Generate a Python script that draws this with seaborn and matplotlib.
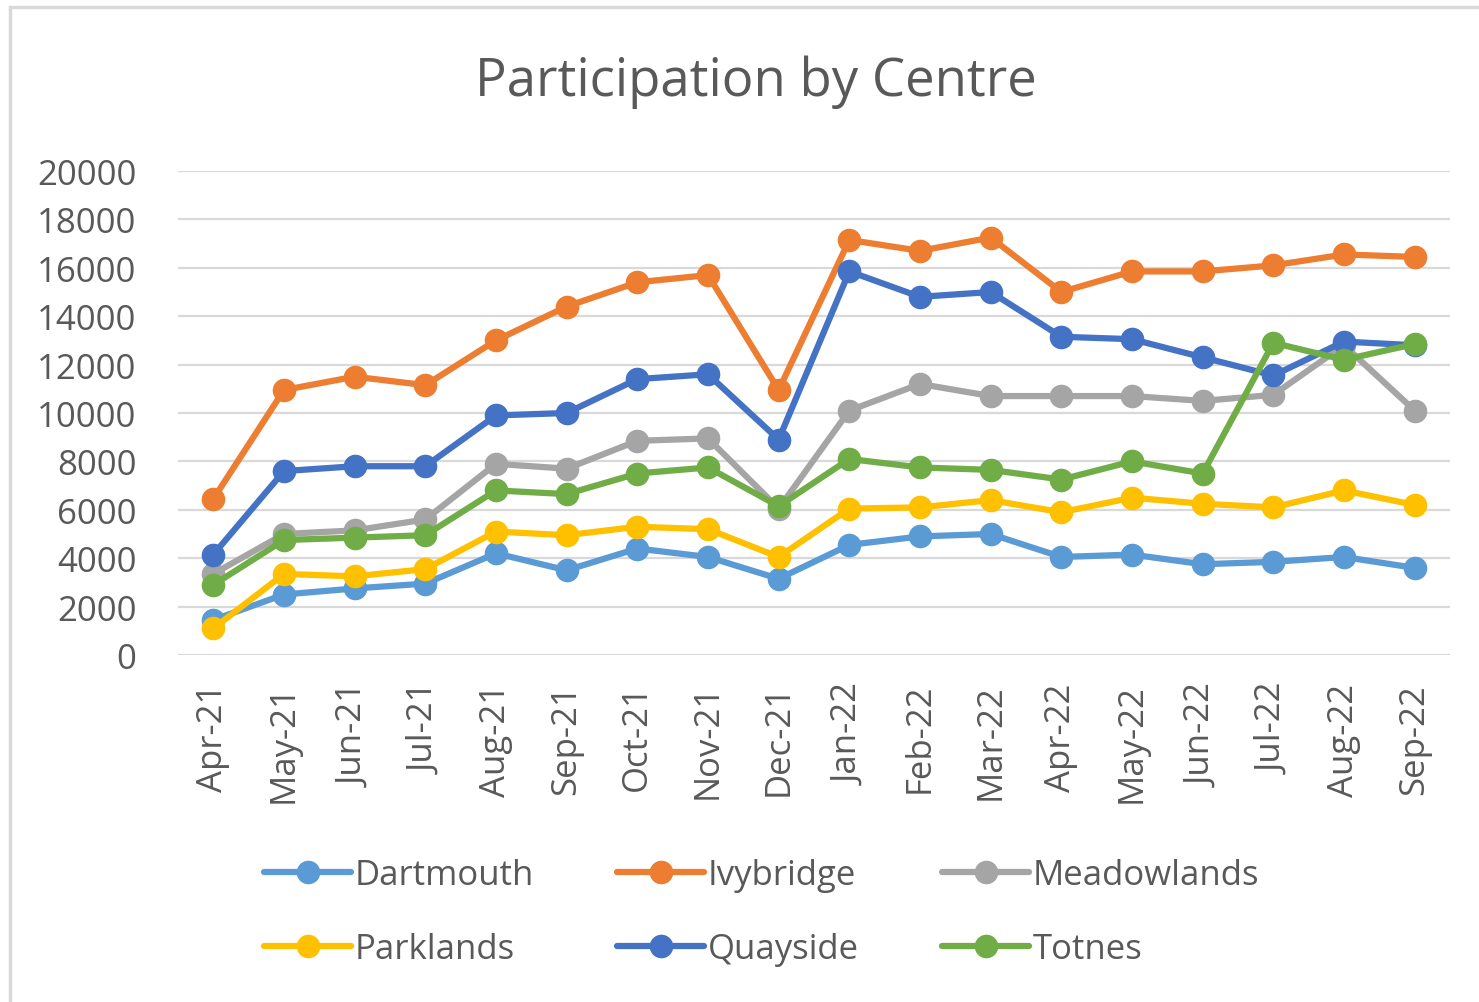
import numpy as np
import pandas as pd
import matplotlib
matplotlib.use("Agg")
import matplotlib.pyplot as plt
import seaborn as sns
from matplotlib.patches import Rectangle

# --- data ---
months = ['Apr-21', 'May-21', 'Jun-21', 'Jul-21', 'Aug-21', 'Sep-21', 'Oct-21', 'Nov-21', 'Dec-21',
          'Jan-22', 'Feb-22', 'Mar-22', 'Apr-22', 'May-22', 'Jun-22', 'Jul-22', 'Aug-22', 'Sep-22']

dartmouth = [1450, 2500, 2750, 2950, 4200, 3500, 4400, 4050, 3150,
             4550, 4900, 5000, 4050, 4150, 3750, 3850, 4050, 3600]
ivybridge = [6450, 10950, 11500, 11150, 13000, 14400, 15400, 15700, 10950,
             17150, 16700, 17250, 15000, 15850, 15850, 16100, 16550, 16450]
meadowlands = [3350, 5000, 5150, 5600, 7900, 7700, 8850, 8950, 6050,
               10100, 11200, 10700, 10700, 10700, 10500, 10750, 12800, 10100]
parklands = [1100, 3350, 3250, 3550, 5100, 4950, 5300, 5200, 4050,
             6050, 6100, 6400, 5900, 6500, 6250, 6100, 6800, 6200]
quayside = [4150, 7600, 7800, 7800, 9900, 10000, 11400, 11600, 8900,
            15850, 14800, 15000, 13150, 13050, 12300, 11550, 12950, 12800]
totnes = [2900, 4750, 4850, 4950, 6800, 6650, 7500, 7750, 6150,
          8100, 7750, 7650, 7250, 8000, 7500, 12900, 12200, 12850]

centres = ['Dartmouth', 'Ivybridge', 'Meadowlands', 'Parklands', 'Quayside', 'Totnes']
series = [dartmouth, ivybridge, meadowlands, parklands, quayside, totnes]
colors = ['#5B9BD5', '#ED7D31', '#A5A5A5', '#FFC000', '#4472C4', '#70AD47']

rows = []
for name, vals in zip(centres, series):
    for i, v in enumerate(vals):
        rows.append({'idx': i, 'Participation': v, 'Centre': name})
df = pd.DataFrame(rows)

# --- plotting ---
sns.set_style('white')
plt.rcParams['font.family'] = ['Open Sans', 'DejaVu Sans']
text_color = '#595959'

fig = plt.figure(figsize=(14.79, 10.03), dpi=100)
ax = fig.add_axes([178 / 1479, 1 - 656 / 1003, (1450 - 178) / 1479, (656 - 172) / 1003])

sns.lineplot(data=df, x='idx', y='Participation', hue='Centre', hue_order=centres,
             palette=colors, marker='o', markersize=17, linewidth=4.5,
             markeredgewidth=0, ax=ax, legend=True)

ax.set_xlim(-0.5, len(months) - 0.5)
ax.set_ylim(0, 20000)
ax.set_yticks(np.arange(0, 20001, 2000))
ax.set_xticks(np.arange(len(months)))
ax.set_xticklabels(months, rotation=90)
ax.tick_params(axis='both', length=0, labelsize=25, colors=text_color)
ax.tick_params(axis='y', pad=30)
ax.tick_params(axis='x', pad=20)
ax.set_xlabel('')
ax.set_ylabel('')
ax.grid(True, axis='y', color='#D9D9D9', linewidth=1.6)
ax.set_axisbelow(True)
for s in ax.spines.values():
    s.set_visible(False)

fig.suptitle('Participation by Centre', x=0.511, y=0.945, fontsize=38, color=text_color)

# legend: 2 rows x 3 columns, filled row-wise
handles, labels = ax.get_legend_handles_labels()
order = [0, 3, 1, 4, 2, 5]
ax.legend([handles[i] for i in order], [labels[i] for i in order],
          loc='center', bbox_to_anchor=(0.515, 0.090), bbox_transform=fig.transFigure,
          ncol=3, frameon=False, fontsize=25, labelcolor=text_color,
          handlelength=2.5, handletextpad=0.1, columnspacing=2.4, labelspacing=1.15,
          markerscale=1.0)

# chart border
fig.patches.append(Rectangle((10 / 1479, -0.01), 1.02, 1 - 8 / 1003 + 0.01,
                             transform=fig.transFigure, fill=False,
                             edgecolor='#D9D9D9', linewidth=2.5))

fig.savefig('out.png', dpi=100)
